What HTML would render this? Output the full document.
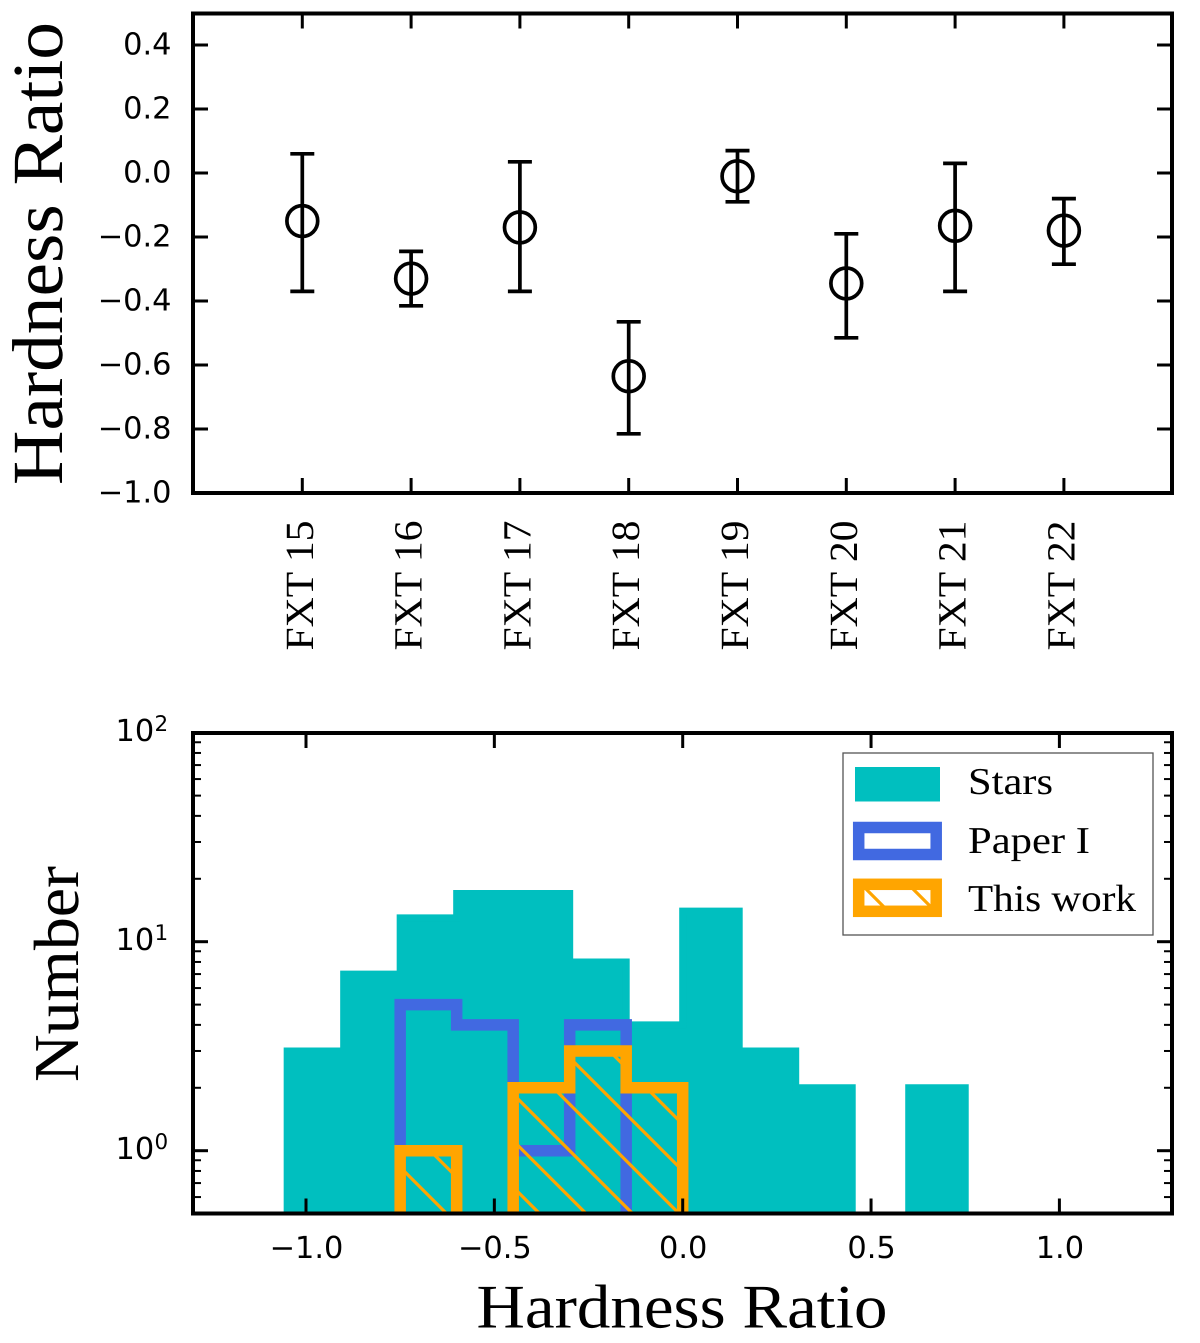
<!DOCTYPE html>
<html lang="en">
<head>
<meta charset="utf-8">
<title>Hardness Ratio Chart</title>
<style>
html,body{margin:0;padding:0;background:#fff;overflow:hidden;}
svg{display:block;text-rendering:geometricPrecision;}
.tick-label{font-family:"DejaVu Sans",sans-serif;font-size:30.4px;fill:#000;}
.serif{font-family:"Liberation Serif",serif;fill:#000;}
</style>
</head>
<body>
<svg id="figure" xmlns="http://www.w3.org/2000/svg" width="1200" height="1343" viewBox="0 0 1200 1343">
  <defs>
    <clipPath id="bottom-clip"><rect x="193" y="733" width="979" height="480.5"></rect></clipPath>
    <clipPath id="orange-clip"><path id="orange-clip-path" d=""></path></clipPath>
    <clipPath id="legend-hatch-clip"><rect x="858.7" y="884.3" width="77.5" height="27"></rect></clipPath>
  </defs>
  <g id="top-plot"></g>
  <g id="bottom-plot"></g>
  <text class="serif" font-size="72" textLength="463" lengthAdjust="spacingAndGlyphs" transform="translate(62,485) rotate(-90)">Hardness Ratio</text>
  <text class="serif" font-size="64" textLength="216" lengthAdjust="spacingAndGlyphs" transform="translate(78,1082) rotate(-90)">Number</text>
  <text class="serif" font-size="62" x="476.5" y="1327.7" textLength="411" lengthAdjust="spacingAndGlyphs">Hardness Ratio</text>
  <g id="legend">
    <rect x="843" y="753" width="310" height="182" fill="#fff" stroke="#555" stroke-width="1.3"></rect>
    <g>
      <rect x="855" y="767" width="85" height="34.5" fill="#00BFBF"></rect>
      <text class="serif" font-size="38" x="968" y="794" textLength="85" lengthAdjust="spacingAndGlyphs">Stars</text>
    </g>
    <g>
      <rect x="858.7" y="827.5" width="77.5" height="27" fill="none" stroke="#4169E1" stroke-width="11.5"></rect>
      <text class="serif" font-size="38" x="968" y="853" textLength="122" lengthAdjust="spacingAndGlyphs">Paper I</text>
    </g>
    <g>
      <g clip-path="url(#legend-hatch-clip)">
        <line x1="850" y1="873" x2="900" y2="923" stroke="#FFA500" stroke-width="3.2"></line>
        <line x1="897" y1="873" x2="947" y2="923" stroke="#FFA500" stroke-width="3.2"></line>
      </g>
      <rect x="858.7" y="884.3" width="77.5" height="27" fill="none" stroke="#FFA500" stroke-width="11.5"></rect>
      <text class="serif" font-size="38" x="968" y="911" textLength="168" lengthAdjust="spacingAndGlyphs">This work</text>
    </g>
  </g>
</svg>
<script>
// ---- Top panel data ----
const fxtNames = ['FXT 15','FXT 16','FXT 17','FXT 18','FXT 19','FXT 20','FXT 21','FXT 22'];
const hardness = [-0.15,-0.33,-0.17,-0.635,-0.01,-0.345,-0.165,-0.18];
const errUpper = [0.06,-0.245,0.035,-0.465,0.07,-0.19,0.03,-0.08];
const errLower = [-0.37,-0.415,-0.37,-0.815,-0.09,-0.515,-0.37,-0.285];
const topYTicks = [0.4,0.2,0.0,-0.2,-0.4,-0.6,-0.8,-1.0];

// ---- Bottom panel data ----
const binEdges = [-1.05,-0.9,-0.75,-0.6,-0.45,-0.3,-0.15,0,0.15,0.3,0.45,0.6,0.75];
const starCounts = [3,7,13,17,17,8,4,14,3,2,0,2];
const paperICounts = [0,0,5,4,1,4,0,0,0,0,0,0];
const thisWorkCounts = [0,0,1,0,2,3,2,0,0,0,0,0];
const bottomXTicks = [-1.0,-0.5,0.0,0.5,1.0];
const logMajorExponents = [0,1,2];
const logMinorValues = [0.5,0.6,0.7,0.8,0.9,2,3,4,5,6,7,8,9,20,30,40,50,60,70,80,90];

const NS = 'http://www.w3.org/2000/svg';
const L = 193, R = 1172;
const T1 = 13.5, B1 = 493, T2 = 733, B2 = 1213.5;
const OFF = 1300;

function mk(tag, attrs, parent){
  const el = document.createElementNS(NS, tag);
  for (const k in attrs) el.setAttribute(k, attrs[k]);
  parent.appendChild(el);
  return el;
}
const xTop = i => 302.3 + 108.8 * i;
const yTop = v => 173 - 320 * v;
const xBot = v => 682.7 + 376.7 * v;
const yBot = v => v <= 0 ? OFF : 1150.7 - 209 * Math.log10(v);
const fmt = (v, d) => (v < 0 ? '\u2212' : '') + Math.abs(v).toFixed(d);

function stepPath(counts){
  let d = 'M' + xBot(binEdges[0]) + ' ' + OFF + ' ';
  counts.forEach((c, i) => {
    const x0 = xBot(binEdges[i]), x1 = xBot(binEdges[i + 1]), y = yBot(c);
    d += 'L' + x0 + ' ' + y + ' L' + x1 + ' ' + y + ' ';
  });
  d += 'L' + xBot(binEdges[binEdges.length - 1]) + ' ' + OFF + ' Z';
  return d;
}
function trimmedStepPath(counts){
  let first = counts.findIndex(c => c > 0);
  let last = counts.length - 1;
  while (last > 0 && counts[last] === 0) last--;
  let d = 'M' + xBot(binEdges[first]) + ' ' + OFF + ' ';
  for (let i = first; i <= last; i++) {
    const x0 = xBot(binEdges[i]), x1 = xBot(binEdges[i + 1]), y = yBot(counts[i]);
    d += 'L' + x0 + ' ' + y + ' L' + x1 + ' ' + y + ' ';
  }
  d += 'L' + xBot(binEdges[last + 1]) + ' ' + OFF;
  return d;
}

// ---------- TOP PANEL ----------
const topG = document.getElementById('top-plot');
fxtNames.forEach((name, i) => {
  const g = mk('g', {}, topG);
  
  
  const x = xTop(i);
  const bar = mk('line', {x1:x, x2:x, y1:yTop(errUpper[i]), y2:yTop(errLower[i]), stroke:'#000', 'stroke-width':3.7}, g);
  
  
  [errUpper[i], errLower[i]].forEach(v => {
    const cap = mk('line', {x1:x - 12, x2:x + 12, y1:yTop(v), y2:yTop(v), stroke:'#000', 'stroke-width':3.7}, g);
    
    
  });
  const c = mk('circle', {cx:x, cy:yTop(hardness[i]), r:15.4, fill:'none', stroke:'#000', 'stroke-width':3.7}, g);
  
  

  const lab = mk('text', {'class':'serif', 'font-size':40, textLength:130, lengthAdjust:'spacingAndGlyphs', transform:'translate(' + (x + 10.5) + ',650.5) rotate(-90)'}, topG);
  
  
  lab.textContent = name;

  [[B1, B1 - 15], [T1, T1 + 15]].forEach(p => {
    const t = mk('line', {x1:x, x2:x, y1:p[0], y2:p[1], stroke:'#000', 'stroke-width':3}, topG);
    
    
  });
});
topYTicks.forEach(v => {
  const y = yTop(v);
  [[L, L + 15], [R, R - 15]].forEach(p => {
    const t = mk('line', {x1:p[0], x2:p[1], y1:y, y2:y, stroke:'#000', 'stroke-width':3}, topG);
    
    
  });
  const lab = mk('text', {'class':'tick-label', x:171.5, y:y + 9.5, 'text-anchor':'end'}, topG);
  
  
  lab.textContent = fmt(v, 1);
});
const frame1 = mk('rect', {x:L, y:T1, width:R - L, height:B1 - T1, fill:'none', stroke:'#000', 'stroke-width':4}, topG);



// ---------- BOTTOM PANEL ----------
const botG = document.getElementById('bottom-plot');
const plotG = mk('g', {'clip-path':'url(#bottom-clip)'}, botG);



const stars = mk('path', {d:stepPath(starCounts), fill:'#00BFBF', stroke:'#00BFBF', 'stroke-width':7, 'stroke-linejoin':'miter'}, plotG);



const blue = mk('path', {d:trimmedStepPath(paperICounts), fill:'none', stroke:'#4169E1', 'stroke-width':11.5, 'stroke-linejoin':'miter'}, plotG);



document.getElementById('orange-clip-path').setAttribute('d', stepPath(thisWorkCounts));
const hatch = mk('g', {'clip-path':'url(#orange-clip)'}, plotG);


for (let k = -3; k <= 5; k++) {
  const c = 581 + k * 46.5;
  mk('line', {x1:990 - c, y1:990, x2:1215 - c, y2:1215, stroke:'#FFA500', 'stroke-width':3.2}, hatch);
}
const orange = mk('path', {d:trimmedStepPath(thisWorkCounts), fill:'none', stroke:'#FFA500', 'stroke-width':11.5, 'stroke-linejoin':'miter'}, plotG);



bottomXTicks.forEach(v => {
  const x = xBot(v);
  [[B2, B2 - 15], [T2, T2 + 15]].forEach(p => {
    const t = mk('line', {x1:x, x2:x, y1:p[0], y2:p[1], stroke:'#000', 'stroke-width':3}, botG);
    
    
  });
  const lab = mk('text', {'class':'tick-label', x:x + 0.5, y:1258, 'text-anchor':'middle'}, botG);
  
  
  lab.textContent = fmt(v, 1);
});
logMajorExponents.forEach(e => {
  const y = yBot(Math.pow(10, e));
  [[L, L + 15], [R, R - 15]].forEach(p => {
    const t = mk('line', {x1:p[0], x2:p[1], y1:y, y2:y, stroke:'#000', 'stroke-width':3}, botG);
    
    
  });
  const lab = mk('text', {'class':'tick-label', x:115.5, y:y + 8.5}, botG);
  
  
  lab.textContent = '10';
  const sup = mk('text', {'class':'tick-label', x:154.5, y:y - 1.5, style:'font-size:21.5px'}, botG);
  
  
  sup.textContent = String(e);
});
logMinorValues.forEach(v => {
  const y = yBot(v);
  [[L, L + 8], [R, R - 8]].forEach(p => {
    const t = mk('line', {x1:p[0], x2:p[1], y1:y, y2:y, stroke:'#000', 'stroke-width':2}, botG);
    
    
  });
});
const frame2 = mk('rect', {x:L, y:T2, width:R - L, height:B2 - T2, fill:'none', stroke:'#000', 'stroke-width':4}, botG);


</script>
</body>
</html>
